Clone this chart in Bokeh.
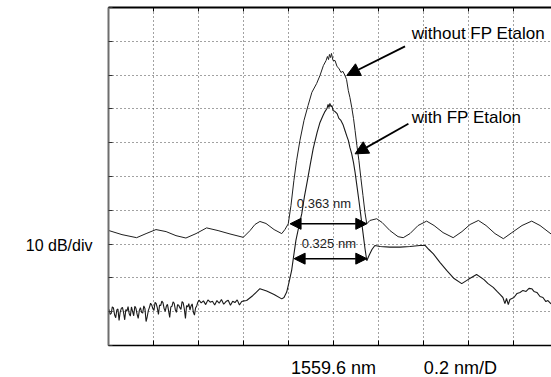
from bokeh.plotting import figure
from bokeh.models import Range1d, Label, Arrow, NormalHead, FixedTicker, LinearAxis
from bokeh.layouts import column
from bokeh.embed import file_html
from bokeh.resources import INLINE

# ---- data: wavelength offset from 1559.6 nm (nm), level in dB (0 dB = top of screen)
without_offset = [-0.998, -0.940, -0.875, -0.833, -0.789, -0.744, -0.700, -0.656, -0.611, -0.564,
                  -0.513, -0.460, -0.401, -0.371, -0.349, -0.327, -0.300, -0.264, -0.230, -0.216,
                  -0.201, -0.189, -0.176, -0.164, -0.149, -0.131, -0.113, -0.096, -0.075, -0.060,
                  -0.045, -0.033, -0.027, -0.022, -0.018, -0.013, -0.009, -0.002, 0.007, 0.016,
                  0.024, 0.033, 0.042, 0.051, 0.058, 0.066, 0.073, 0.081, 0.089, 0.096,
                  0.104, 0.113, 0.122, 0.131, 0.140, 0.148, 0.162, 0.192, 0.216, 0.251,
                  0.287, 0.310, 0.340, 0.376, 0.414, 0.447, 0.487, 0.532, 0.571, 0.607,
                  0.644, 0.678, 0.718, 0.755, 0.793, 0.838, 0.881, 0.918, 0.967]
without_level = [-66.0, -67.2, -68.1, -66.9, -65.7, -66.3, -67.5, -68.2, -66.9, -65.2,
                 -66.0, -67.0, -68.0, -66.0, -64.2, -63.3, -63.9, -65.7, -66.9, -65.7,
                 -64.0, -58.6, -51.2, -45.3, -39.3, -33.4, -29.0, -25.1, -22.5, -20.1,
                 -17.2, -15.7, -14.5, -15.4, -13.9, -14.8, -13.6, -15.7, -15.7, -17.5,
                 -18.0, -19.2, -18.9, -20.1, -21.3, -24.6, -26.6, -29.5, -32.8, -36.4,
                 -40.8, -45.3, -50.6, -55.6, -60.7, -64.0, -63.0, -62.5, -63.6, -66.0,
                 -67.8, -68.1, -66.9, -64.5, -63.2, -64.5, -66.6, -68.1, -66.3, -64.2,
                 -63.0, -64.5, -66.9, -68.4, -66.6, -64.5, -63.2, -64.5, -67.0]

with_offset = [-0.998, -0.993, -0.988, -0.983, -0.978, -0.973, -0.968, -0.963, -0.958, -0.953,
               -0.948, -0.943, -0.938, -0.933, -0.928, -0.923, -0.918, -0.913, -0.908, -0.903,
               -0.898, -0.893, -0.888, -0.883, -0.878, -0.873, -0.868, -0.863, -0.858, -0.853,
               -0.848, -0.843, -0.838, -0.833, -0.828, -0.823, -0.818,
               -0.813, -0.808, -0.803, -0.798, -0.793, -0.788, -0.783, -0.778, -0.773, -0.768,
               -0.763, -0.758, -0.753, -0.748, -0.743, -0.738, -0.733, -0.728, -0.723, -0.718,
               -0.713, -0.708, -0.703, -0.698, -0.693, -0.688, -0.683, -0.678, -0.673, -0.668,
               -0.663, -0.658, -0.653, -0.648, -0.643, -0.638, -0.633, -0.628, -0.623, -0.618,
               -0.613, -0.608, -0.603,
               -0.598, -0.588, -0.578, -0.568, -0.558, -0.548, -0.538, -0.528, -0.518, -0.508,
               -0.498, -0.488, -0.478, -0.468, -0.458, -0.448, -0.438, -0.428, -0.418, -0.408, -0.398,
               -0.386, -0.358, -0.327, -0.297, -0.264, -0.230, -0.220, -0.208, -0.198, -0.186,
               -0.178, -0.167, -0.153, -0.141, -0.129, -0.116, -0.104, -0.090, -0.073, -0.060,
               -0.047, -0.038, -0.029, -0.024, -0.020, -0.016, -0.011, -0.007, -0.002, 0.007,
               0.016, 0.024, 0.033, 0.042, 0.051, 0.060, 0.066, 0.073, 0.081, 0.089,
               0.096, 0.104, 0.113, 0.122, 0.131, 0.140, 0.148, 0.158, 0.171, 0.184,
               0.207, 0.251, 0.296, 0.340, 0.384, 0.407, 0.424, 0.444, 0.473, 0.503,
               0.536, 0.570, 0.598, 0.636, 0.669, 0.687, 0.710, 0.727, 0.740, 0.753,
               0.762, 0.769, 0.777, 0.784, 0.802, 0.816, 0.829, 0.842, 0.856, 0.869,
               0.881, 0.891, 0.904, 0.918, 0.931, 0.944, 0.953, 0.967]
with_level = [-89.3, -90.8, -90.5, -88.6, -88.9, -90.9, -91.8, -89.5, -89.2, -92.6,
              -90.1, -89.0, -88.7, -90.3, -92.4, -89.4, -89.8, -88.5, -90.6, -91.3,
              -88.6, -89.9, -91.2, -88.4, -89.0, -90.7, -92.0, -89.6, -88.8, -90.2,
              -90.4, -88.3, -89.1, -92.9, -91.5, -89.7, -88.7,
              -87.5, -88.0, -89.1, -89.6, -87.2, -87.6, -88.9, -90.8, -88.0, -88.2,
              -86.9, -87.3, -89.0, -89.9, -88.4, -87.8, -89.7, -91.7, -88.6, -88.4,
              -87.1, -87.5, -89.4, -90.2, -87.9, -88.1, -88.8, -89.3, -87.0, -87.4,
              -89.2, -92.0, -88.2, -88.6, -87.6, -89.5, -88.3, -87.7, -90.1, -91.0,
              -88.9, -88.3, -87.2,
              -86.6, -87.4, -86.8, -87.9, -86.5, -87.2, -86.9, -88.0, -86.7, -87.5,
              -86.4, -87.8, -87.0, -86.6, -88.1, -86.9, -87.3, -86.5, -88.0, -87.0, -86.8,
              -86.7, -85.2, -83.2, -83.9, -84.9, -86.2, -85.8, -84.2, -81.4, -77.8,
              -74.0, -68.9, -64.5, -61.0, -55.9, -51.2, -46.7, -41.7, -37.0, -34.0,
              -32.0, -30.8, -29.9, -28.7, -29.6, -28.4, -29.3, -29.0, -30.5, -30.8,
              -31.4, -32.8, -33.4, -34.6, -36.4, -38.2, -39.3, -41.4, -43.3, -45.9,
              -48.8, -52.7, -57.1, -61.8, -66.6, -71.3, -74.9, -73.4, -71.6, -70.4,
              -70.7, -70.9, -70.9, -70.7, -70.4, -70.4, -71.6, -72.9, -75.4, -77.8,
              -80.2, -81.7, -80.5, -79.0, -80.5, -81.7, -82.8, -84.0, -84.9, -85.8,
              -87.6, -86.1, -87.9, -86.4, -85.8, -84.6, -84.3, -83.7, -84.0, -83.1,
              -83.2, -84.0, -84.3, -85.5, -85.8, -87.0, -86.7, -87.7]

x_ticks = [-1.0, -0.8, -0.6, -0.4, -0.2, 0.0, 0.2, 0.4, 0.6, 0.8, 1.0]
y_ticks = [-100, -90, -80, -70, -60, -50, -40, -30, -20, -10, 0]

# captions
x_caption_pos = [0.0, 0.564]
x_caption_text = ["1559.6 nm", "0.2 nm/D"]
y_caption_pos = [-70.4]
y_caption_text = ["10 dB/div"]

# width markers (double arrows) and their labels
width_texts = ["0.363 nm", "0.325 nm"]
width_x0 = [-0.193, -0.175]
width_x1 = [0.148, 0.148]
width_y = [-64.0, -74.3]
width_label_x = [-0.163, -0.141]
width_label_y = [-58.1, -69.9]

# curve callouts
callout_texts = ["without FP Etalon", "with FP Etalon"]
callout_tx = [0.348, 0.348]
callout_ty = [-7.8, -32.6]
callout_x0 = [0.318, 0.333]
callout_y0 = [-11.5, -34.4]
callout_x1 = [0.059, 0.096]
callout_y1 = [-20.1, -43.3]

FONT = "Liberation Sans"
xr = Range1d(-1.0, 0.969)

p = figure(width=551, height=347, output_backend="svg", toolbar_location=None, title=None,
           x_range=xr, y_range=Range1d(-100, 0),
           min_border_left=108, min_border_right=0, min_border_top=7, min_border_bottom=2)
p.outline_line_color = None
p.background_fill_color = "white"
p.border_fill_color = "white"

xa = p.xaxis[0]
xa.ticker = FixedTicker(ticks=[], minor_ticks=x_ticks)
xa.major_tick_line_color = None
xa.minor_tick_in = 5
xa.minor_tick_out = 0
xa.minor_tick_line_color = "black"
xa.axis_line_color = "black"
xa.axis_line_width = 1.5
xa.major_label_standoff = 0

ya = p.yaxis[0]
ya.ticker = FixedTicker(ticks=y_caption_pos, minor_ticks=y_ticks)
ya.major_label_overrides = {y_caption_pos[0]: y_caption_text[0]}
ya.major_tick_line_color = None
ya.minor_tick_in = 4
ya.minor_tick_out = 0
ya.minor_tick_line_color = "#333333"
ya.axis_line_color = "#6e6e6e"
ya.axis_line_width = 2
ya.major_label_text_font = FONT
ya.major_label_text_font_size = "16px"
ya.major_label_text_color = "black"
ya.major_label_standoff = 10
ya.major_label_orientation = "horizontal"

top = LinearAxis(ticker=FixedTicker(ticks=[], minor_ticks=x_ticks), major_tick_line_color=None,
                 minor_tick_in=4, minor_tick_out=0, minor_tick_line_color="black",
                 axis_line_width=2, axis_line_color="black", major_label_standoff=0)
p.add_layout(top, "above")

p.xgrid.ticker = FixedTicker(ticks=x_ticks)
p.ygrid.ticker = FixedTicker(ticks=y_ticks)
for g in (p.xgrid[0], p.ygrid[0]):
    g.grid_line_color = "#444444"
    g.grid_line_dash = "1 3"
    g.grid_line_width = 1

p.line(without_offset, without_level, line_color="#1f1f1f", line_width=1)
p.line(with_offset, with_level, line_color="#1a1a1a", line_width=1.1)

for i in range(2):
    p.add_layout(Arrow(start=NormalHead(size=11, fill_color="black", line_color="black"),
                       end=NormalHead(size=11, fill_color="black", line_color="black"),
                       x_start=width_x0[i], y_start=width_y[i], x_end=width_x1[i], y_end=width_y[i],
                       line_width=1.5, line_color="black"))
    p.add_layout(Label(x=width_label_x[i], y=width_label_y[i], text=width_texts[i],
                       text_font=FONT, text_font_size="13px", text_color="#222222",
                       text_align="left", text_baseline="middle"))
    p.add_layout(Arrow(end=NormalHead(size=13, fill_color="black", line_color="black"),
                       x_start=callout_x0[i], y_start=callout_y0[i], x_end=callout_x1[i], y_end=callout_y1[i],
                       line_width=1.8, line_color="black"))
    p.add_layout(Label(x=callout_tx[i], y=callout_ty[i], text=callout_texts[i],
                       text_font=FONT, text_font_size="17px", text_color="black",
                       text_align="left", text_baseline="middle"))

# caption strip below the screen, sharing the wavelength scale
cap = figure(width=551, height=30, output_backend="svg", toolbar_location=None, title=None,
             x_range=xr, y_range=Range1d(0, 30), x_axis_type=None, y_axis_type=None,
             min_border_left=108, min_border_right=0, min_border_top=0, min_border_bottom=0)
cap.outline_line_color = None
cap.background_fill_color = "white"
cap.border_fill_color = "white"
for i in range(2):
    cap.add_layout(Label(x=x_caption_pos[i], y=10, text=x_caption_text[i], text_font=FONT,
                         text_font_size="18px", text_color="black",
                         text_align="center", text_baseline="alphabetic"))

layout = column(p, cap, spacing=0)
open("out.html", "w").write(file_html(layout, INLINE))
